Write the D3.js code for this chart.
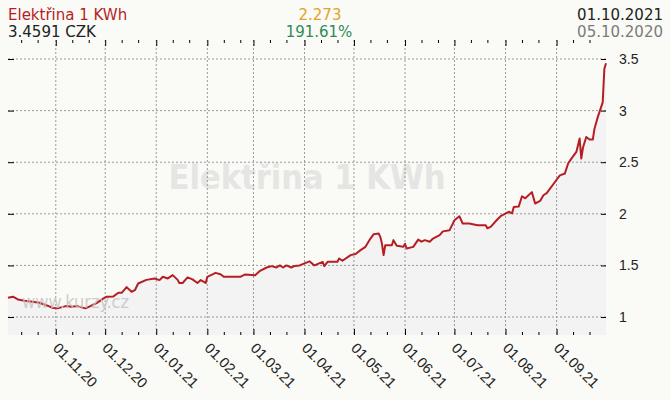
<!DOCTYPE html>
<html>
<head>
<meta charset="utf-8">
<script src="https://cdn.jsdelivr.net/npm/d3@7/dist/d3.min.js"></script>
<style>
	body { margin: 0; background: #fafaf6; }
	svg { display: block; font-family: "DejaVu Sans", Verdana, sans-serif; }
	.axis path.domain { display: none; }
	.axis line { stroke: #000; }
	.axis text { font-size: 14px; fill: #222; }
	.x-axis text { font-size: 14.5px; }
</style>
</head>
<body>
<div id="chart-area"></div>
<script>
// SVG Size
let width = 670,
	height = 400;

// Data
let dates = [
	"2020-10-03", "2020-10-06", "2020-10-09", "2020-10-13", "2020-10-18", "2020-10-22", "2020-10-27", "2020-10-30",
	"2020-11-02", "2020-11-07", "2020-11-11", "2020-11-14", "2020-11-19", "2020-11-22", "2020-11-26", "2020-11-30",
	"2020-12-02", "2020-12-06", "2020-12-09", "2020-12-11", "2020-12-14", "2020-12-17", "2020-12-19", "2020-12-21",
	"2020-12-26", "2020-12-31", "2021-01-03", "2021-01-05", "2021-01-08", "2021-01-11", "2021-01-14", "2021-01-15",
	"2021-01-17", "2021-01-20", "2021-01-23", "2021-01-26", "2021-01-28", "2021-01-31", "2021-02-01", "2021-02-06",
	"2021-02-09", "2021-02-11", "2021-02-21", "2021-02-24", "2021-03-02", "2021-03-05", "2021-03-09", "2021-03-12",
	"2021-03-15", "2021-03-17", "2021-03-19", "2021-03-21", "2021-03-24", "2021-03-26", "2021-03-29", "2021-04-04",
	"2021-04-07", "2021-04-12", "2021-04-13", "2021-04-15", "2021-04-21", "2021-04-22", "2021-04-24", "2021-04-29",
	"2021-05-02", "2021-05-05", "2021-05-08", "2021-05-11", "2021-05-13", "2021-05-16", "2021-05-17", "2021-05-18",
	"2021-05-19", "2021-05-20", "2021-05-24", "2021-05-25", "2021-05-27", "2021-05-31", "2021-06-01", "2021-06-02",
	"2021-06-06", "2021-06-09", "2021-06-11", "2021-06-13", "2021-06-16", "2021-06-18", "2021-06-22", "2021-06-24",
	"2021-06-28", "2021-07-01", "2021-07-04", "2021-07-06", "2021-07-10", "2021-07-15", "2021-07-20", "2021-07-21",
	"2021-07-23", "2021-07-27", "2021-07-29", "2021-08-03", "2021-08-05", "2021-08-06", "2021-08-09", "2021-08-11",
	"2021-08-13", "2021-08-17", "2021-08-19", "2021-08-22", "2021-08-24", "2021-08-26", "2021-09-01", "2021-09-03",
	"2021-09-06", "2021-09-08", "2021-09-10", "2021-09-13", "2021-09-15", "2021-09-16", "2021-09-17", "2021-09-19",
	"2021-09-21", "2021-09-23", "2021-09-24", "2021-09-26", "2021-09-29", "2021-09-30", "2021-10-01"
];
let prices = [
	1.186, 1.197, 1.17, 1.158, 1.148, 1.138, 1.11, 1.09,
	1.084, 1.106, 1.10, 1.106, 1.084, 1.106, 1.138, 1.18,
	1.197, 1.20, 1.235, 1.235, 1.29, 1.245, 1.26, 1.325,
	1.36, 1.374, 1.358, 1.39, 1.374, 1.406, 1.36, 1.33,
	1.33, 1.384, 1.365, 1.33, 1.358, 1.33, 1.39, 1.428,
	1.415, 1.39, 1.39, 1.413, 1.406, 1.448, 1.48, 1.493,
	1.48, 1.50, 1.48, 1.50, 1.48, 1.495, 1.50, 1.54,
	1.50, 1.535, 1.493, 1.535, 1.535, 1.567, 1.545, 1.60,
	1.61, 1.648, 1.68, 1.76, 1.803, 1.81, 1.777, 1.71,
	1.60, 1.696, 1.696, 1.745, 1.69, 1.68, 1.71, 1.664,
	1.68, 1.75, 1.73, 1.745, 1.73, 1.76, 1.793, 1.83,
	1.84, 1.938, 1.977, 1.906, 1.906, 1.89, 1.89, 1.86,
	1.873, 1.945, 1.977, 2.02, 2.005, 2.067, 2.07, 2.17,
	2.15, 2.21, 2.10, 2.125, 2.18, 2.20, 2.33, 2.373,
	2.39, 2.487, 2.535, 2.60, 2.73, 2.535, 2.64, 2.745,
	2.72, 2.72, 2.825, 2.937, 3.08, 3.405, 3.459
];
let yTicks = [1, 1.5, 2, 2.5, 3, 3.5];
let xStart = "2020-10-03",
	xEnd = "2021-10-01";
let yMin = 0.826,
	yMax = 3.684;

let title = "Elektřina 1 KWh",
	lastPrice = "3.4591 CZK",
	change = "2.273",
	changePct = "191.61%",
	lastDate = "01.10.2021",
	firstDate = "05.10.2020";

let parseDate = d3.timeParse("%Y-%m-%d");
let data = dates.map((d, i) => ({ date: parseDate(d), value: prices[i] }));

drawChart(data);

function drawChart(data){
	let svg = d3.select("#chart-area").append("svg")
		.attr("width", width)
		.attr("height", height);

	let left = 8, right = 606, top = 40, bottom = 335;

	let XScale = d3.scaleTime()
		.domain([parseDate(xStart), parseDate(xEnd)])
		.range([left, right]);
	let YScale = d3.scaleLinear()
		.domain([yMin, yMax])
		.range([bottom, top]);

	let monthTicks = d3.timeMonth.range(d3.timeMonth.ceil(XScale.domain()[0]), XScale.domain()[1]);
	let minorTicks = d3.timeDay.range(XScale.domain()[0], XScale.domain()[1])
		.filter(d => d.getDate() == 11 || d.getDate() == 21);

	// watermark
	svg.append("text")
		.attr("x", 307)
		.attr("y", 189)
		.attr("text-anchor", "middle")
		.style("font-family", "'DejaVu Sans Condensed', 'DejaVu Sans', sans-serif")
		.style("font-weight", "bold")
		.style("font-size", "34px")
		.attr("fill", "#e5e5e3")
		.text(title);

	// area under the line
	let area = d3.area()
		.x(d => XScale(d.date))
		.y0(bottom)
		.y1(d => YScale(d.value));
	svg.append("path")
		.datum(data)
		.attr("fill", "#f3f3f3")
		.attr("d", area);

	// grid
	svg.append("g").selectAll("line").data(yTicks).enter()
		.append("line")
		.attr("x1", left).attr("x2", right)
		.attr("y1", d => YScale(d)).attr("y2", d => YScale(d))
		.attr("stroke", "#9a9a9a")
		.attr("stroke-dasharray", "2,2");
	svg.append("g").selectAll("line").data(monthTicks).enter()
		.append("line")
		.attr("x1", d => XScale(d)).attr("x2", d => XScale(d))
		.attr("y1", top).attr("y2", bottom)
		.attr("stroke", "#9a9a9a")
		.attr("stroke-dasharray", "2,2");

	//The Axis
	svg.append("g")
		.attr("class", "axis")
		.attr("transform", "translate(0," + bottom + ")")
		.call(d3.axisBottom(XScale).tickValues(minorTicks).tickSize(-3).tickFormat(""));
	let xAxis = svg.append("g")
		.attr("class", "axis x-axis")
		.attr("transform", "translate(0," + bottom + ")")
		.call(d3.axisBottom(XScale).tickValues(monthTicks).tickSize(-6).tickFormat(d3.timeFormat("%d.%m.%y")));
	xAxis.selectAll("text")
		.attr("text-anchor", "start")
		.attr("dy", null)
		.attr("transform", "translate(-2,12) rotate(45)");

	svg.append("g")
		.attr("class", "axis")
		.attr("transform", "translate(0," + top + ")")
		.call(d3.axisTop(XScale).tickValues(minorTicks).tickSize(-3).tickFormat(""));
	svg.append("g")
		.attr("class", "axis")
		.attr("transform", "translate(0," + top + ")")
		.call(d3.axisTop(XScale).tickValues(monthTicks).tickSize(-6).tickFormat(""));

	svg.append("g")
		.attr("class", "axis")
		.attr("transform", "translate(" + left + ",0)")
		.call(d3.axisLeft(YScale).tickValues(yTicks).tickSize(-6).tickFormat(""));
	svg.append("g")
		.attr("class", "axis y-axis")
		.attr("transform", "translate(" + right + ",0)")
		.call(d3.axisRight(YScale).tickValues(yTicks).tickSize(-5).tickPadding(13).tickFormat(d => d));

	// the line
	let line = d3.line()
		.x(d => XScale(d.date))
		.y(d => YScale(d.value));
	svg.append("path")
		.datum(data)
		.attr("fill", "none")
		.attr("stroke", "#b51f24")
		.attr("stroke-width", 2)
		.attr("stroke-linejoin", "round")
		.attr("d", line);

	svg.append("text")
		.attr("x", 22)
		.attr("y", 308)
		.style("font-family", "'DejaVu Sans Condensed', 'DejaVu Sans', sans-serif")
		.style("font-size", "18px")
		.attr("fill", "#c4c4c4")
		.attr("fill-opacity", 0.85)
		.text("www.kurzy.cz");

	// header
	let header = svg.append("g").style("font-size", "15px");
	header.append("text").attr("x", 8).attr("y", 20).attr("fill", "#b51f24").text(title);
	header.append("text").attr("x", 8).attr("y", 37).attr("fill", "#222").text(lastPrice);
	header.append("text").attr("x", 320).attr("y", 20).attr("text-anchor", "middle").attr("fill", "#e0a526").text(change);
	header.append("text").attr("x", 319).attr("y", 37).attr("text-anchor", "middle").attr("fill", "#2e8b57").text(changePct);
	header.append("text").attr("x", 663).attr("y", 20).attr("text-anchor", "end").attr("fill", "#222").text(lastDate);
	header.append("text").attr("x", 663).attr("y", 37).attr("text-anchor", "end").attr("fill", "#7a7a7a").text(firstDate);
}
</script>
</body>
</html>
